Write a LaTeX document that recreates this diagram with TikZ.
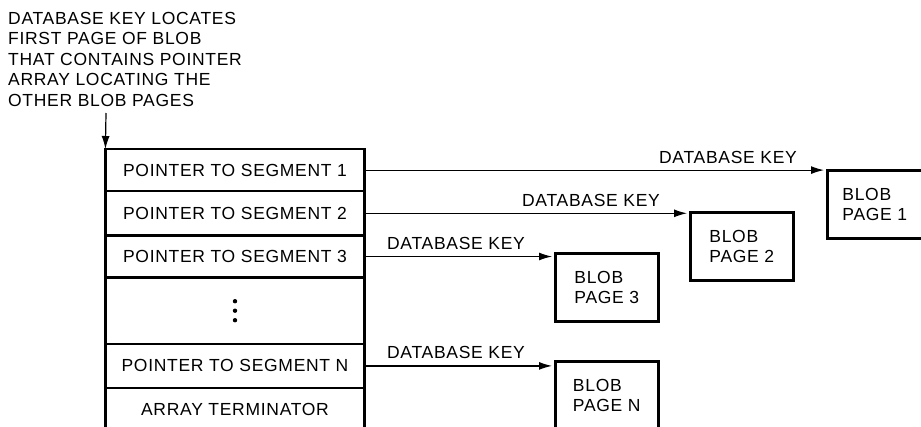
\documentclass[tikz,border=0pt]{standalone}
\usepackage{fontspec}
\setmainfont{Liberation Sans}[LetterSpace=4]
\usetikzlibrary{arrows.meta}
\begin{document}
\begin{tikzpicture}[x=1pt,y=-1pt,
  font=\fontsize{17.5}{20.5}\selectfont,
  row/.style={draw, line width=1.2pt, minimum width=258pt, inner sep=0pt, anchor=north},
  blob/.style={draw, line width=2.6pt, minimum height=68pt, align=left, anchor=north west, inner sep=0pt},
  arr/.style={line width=1.2pt, -{Latex[length=13pt,width=8pt]}},
  lbl/.style={inner sep=0pt, anchor=base east}]
\useasboundingbox (0,0) rectangle (921,426);
\clip (0,0) rectangle (921,426);
% note
\node[inner sep=0pt, anchor=north west, align=left] (note) at (8,12)
  {DATABASE KEY LOCATES\\FIRST PAGE OF BLOB\\THAT CONTAINS POINTER\\ARRAY LOCATING THE\\OTHER BLOB PAGES};
% array rows
\node[row, minimum height=41pt] (r1) at (235,149) {POINTER TO SEGMENT 1};
\node[row, minimum height=43pt] (r2) at (r1.south) {POINTER TO SEGMENT 2};
\node[row, minimum height=41pt] (r3) at (r2.south) {POINTER TO SEGMENT 3};
\node[row, minimum height=65pt] (rd) at (r3.south) {};
\node[row, minimum height=43pt] (rn) at (rd.south) {POINTER TO SEGMENT N};
\node[row, minimum height=42pt] (rt) at (rn.south) {ARRAY TERMINATOR};
\fill (rd.center) ++(0,-9.5) circle (2.2pt);
\fill (rd.center) circle (2.2pt);
\fill (rd.center) ++(0,9.5) circle (2.2pt);
\draw[line width=2.6pt] (r1.north west) rectangle (rt.south east);
% arrow from note
\coordinate (ns) at (106,113);
\draw[arr] (ns) -- (r1.north west);
% blob pages
\node[blob, minimum width=95pt] (b1) at (826,169) {BLOB\\PAGE 1};
\node[blob, minimum width=103pt] (b2) at (689,211) {BLOB\\PAGE 2};
\node[blob, minimum width=103pt] (b3) at (554,252) {BLOB\\PAGE 3};
\node[blob, minimum width=103pt] (bn) at (554,360) {BLOB\\PAGE N};
% connectors
\draw[arr, shorten >=2pt] (r1.east) -- (r1.east -| b1.west);
\draw[arr, shorten >=2pt] (r2.east) -- (r2.east -| b2.west);
\draw[arr, shorten >=2pt] (r3.east) -- (r3.east -| b3.west);
\draw[arr, shorten >=2pt] (rn.east) -- (rn.east -| bn.west);
% labels
\path (r1.east -| b1.west) ++(-29,-7) node[lbl] (k1) {DATABASE KEY};
\path (r2.east -| b2.west) ++(-29,-7) node[lbl] (k2) {DATABASE KEY};
\path (r3.east -| b3.west) ++(-29,-7) node[lbl] (k3) {DATABASE KEY};
\path (rn.east -| bn.west) ++(-29,-7) node[lbl] (kn) {DATABASE KEY};
\end{tikzpicture}
\end{document}
